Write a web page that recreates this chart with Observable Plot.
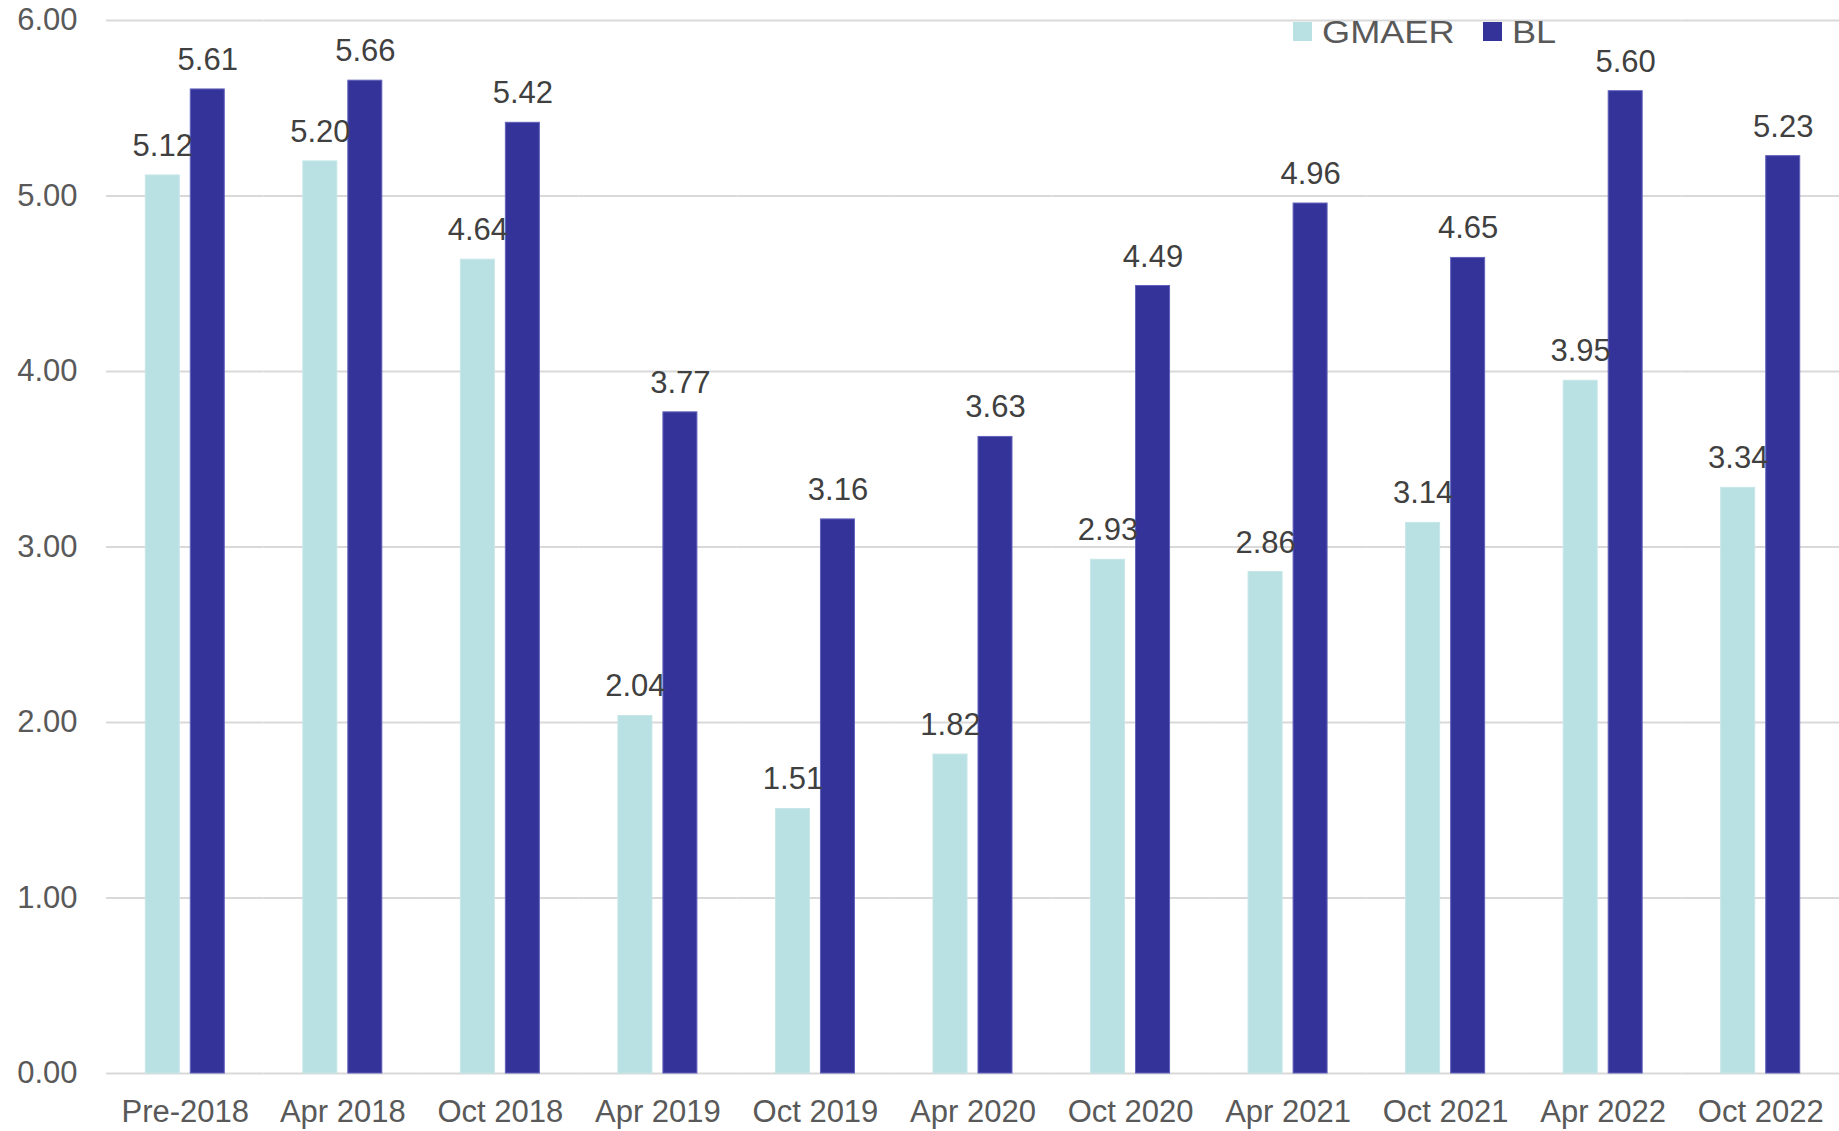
<!DOCTYPE html>
<html>
<head>
<meta charset="utf-8">
<script src="https://cdn.jsdelivr.net/npm/d3@7"></script>
<script src="https://cdn.jsdelivr.net/npm/@observablehq/plot@0.6"></script>
<style>
  html, body { margin: 0; padding: 0; background: #fff; }
  #wrap { position: relative; width: 1839px; height: 1131px; font-family: "Liberation Sans", Arial, sans-serif; }
  .sw { position: absolute; width: 19px; height: 19px; top: 22px; }
  .lt { position: absolute; top: 16px; font-size: 32px; line-height: 32px; color: #595959; white-space: nowrap; transform: scaleX(1.13); transform-origin: 0 0; }
</style>
</head>
<body>
<div id="wrap"></div>
<script>
const categories = ["Pre-2018","Apr 2018","Oct 2018","Apr 2019","Oct 2019","Apr 2020","Oct 2020","Apr 2021","Oct 2021","Apr 2022","Oct 2022"];
const seriesNames = ["GMAER", "BL"];
const gmaer = [5.12, 5.20, 4.64, 2.04, 1.51, 1.82, 2.93, 2.86, 3.14, 3.95, 3.34];
const bl = [5.61, 5.66, 5.42, 3.77, 3.16, 3.63, 4.49, 4.96, 4.65, 5.60, 5.23];
const seriesColors = ["#B9E0E3", "#343399"];
const seriesEdge = ["#C6E6E8", "#6262BC"];
const yTicks = [0, 1, 2, 3, 4, 5, 6];

const data = [];
categories.forEach((c, i) => {
  data.push({category: c, series: "GMAER", value: gmaer[i]});
  data.push({category: c, series: "BL", value: bl[i]});
});
const edgeOf = s => seriesEdge[seriesNames.indexOf(s)];

const chart = Plot.plot({
  width: 1839,
  height: 1131,
  marginTop: 20,
  marginBottom: 58,
  marginLeft: 106,
  marginRight: 0,
  style: {fontFamily: "'Liberation Sans', Arial, sans-serif", fontSize: "31px", color: "#595959", background: "#fff", overflow: "visible"},
  fx: {domain: categories, padding: 0, round: false, label: null, tickSize: 0, tickPadding: 26, axis: "bottom"},
  x: {domain: seriesNames, paddingInner: 0.2222, paddingOuter: 0.8617, round: false, axis: null},
  y: {domain: [0, 6], ticks: yTicks, tickFormat: ".2f", tickSize: 0, tickPadding: 29, label: null},
  color: {domain: seriesNames, range: seriesColors},
  marks: [
    Plot.ruleY(yTicks, {stroke: "#D9D9D9", strokeWidth: 2}),
    Plot.barY(data, {fx: "category", x: "series", y: "value", fill: "series", stroke: d => edgeOf(d.series), strokeWidth: 1, insetLeft: 0.5, insetRight: 0.5, insetTop: 0.5}),
    Plot.text(data, {fx: "category", x: "series", y: "value", text: d => d.value.toFixed(2), lineAnchor: "bottom", dy: -19, fill: "#404040", fontSize: 31})
  ]
});

const wrap = document.getElementById("wrap");
wrap.appendChild(chart);

// legend
const legendItems = [
  {name: seriesNames[0], color: seriesColors[0], sw: 1293, tx: 1322},
  {name: seriesNames[1], color: seriesColors[1], sw: 1483, tx: 1512}
];
legendItems.forEach(it => {
  const s = document.createElement("div");
  s.className = "sw";
  s.style.left = it.sw + "px";
  s.style.background = it.color;
  wrap.appendChild(s);
  const t = document.createElement("div");
  t.className = "lt";
  t.style.left = it.tx + "px";
  t.textContent = it.name;
  wrap.appendChild(t);
});
</script>
</body>
</html>
